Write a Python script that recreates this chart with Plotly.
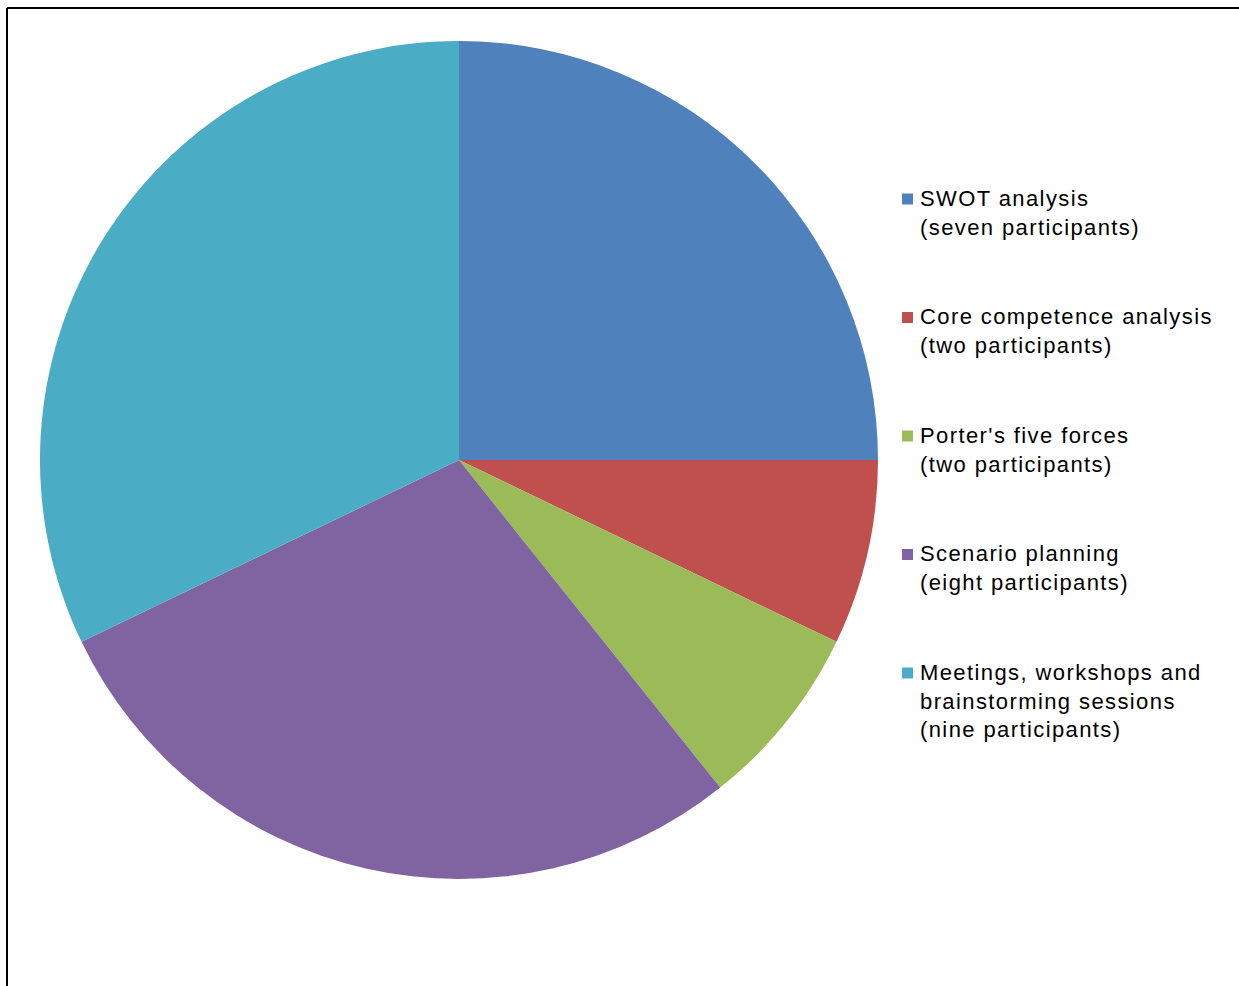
import plotly.graph_objects as go

labels = ["SWOT analysis", "Core competence analysis", "Porter's five forces",
          "Scenario planning", "Meetings, workshops and brainstorming sessions"]
legend_texts = ["SWOT analysis<br>(seven participants)",
                "Core competence analysis<br>(two participants)",
                "Porter's five forces<br>(two participants)",
                "Scenario planning<br>(eight participants)",
                "Meetings, workshops and<br>brainstorming sessions<br>(nine participants)"]
values = [7, 2, 2, 8, 9]
colors = ["#4F81BD", "#C0504D", "#9BBB59", "#8064A2", "#4BACC6"]

W, H = 1239, 986
cx, cy, r = 459, 460, 419

fig = go.Figure(go.Pie(
    labels=labels, values=values, sort=False, direction="clockwise", rotation=0,
    marker=dict(colors=colors, line=dict(width=0)),
    textinfo="none", hoverinfo="label+value", showlegend=False,
    domain=dict(x=[(cx - r) / W, (cx + r) / W], y=[1 - (cy + r) / H, 1 - (cy - r) / H]),
))

shapes = [
    dict(type="line", xref="paper", yref="paper", x0=7 / W, x1=1.02, y0=1 - 8 / H, y1=1 - 8 / H,
         line=dict(color="black", width=2)),
    dict(type="line", xref="paper", yref="paper", x0=7 / W, x1=7 / W, y0=1 - 8 / H, y1=-0.02,
         line=dict(color="black", width=2)),
]
annotations = []
fs = 22
for i, (t, c) in enumerate(zip(legend_texts, colors)):
    yc = 199 + i * 118.5
    shapes.append(dict(type="rect", xref="paper", yref="paper",
                       x0=902 / W, x1=913 / W, y0=1 - (yc + 5.5) / H, y1=1 - (yc - 5.5) / H,
                       fillcolor=c, line=dict(width=0)))
    top = yc - (1 + fs * 1.3 / 2)
    annotations.append(dict(text=t, xref="paper", yref="paper", x=918 / W, y=1 - top / H,
                            xanchor="left", yanchor="top", align="left", showarrow=False,
                            font=dict(family="Liberation Sans, Arial", size=fs, color="#000000")))

fig.update_layout(width=W, height=H, margin=dict(l=0, r=0, t=0, b=0),
                  paper_bgcolor="white", plot_bgcolor="white",
                  shapes=shapes, annotations=annotations)
fig.write_html(
    "out.html",
    post_script="document.querySelectorAll('.annotation-text').forEach(function(e){e.style.letterSpacing='1.4px';});",
)
